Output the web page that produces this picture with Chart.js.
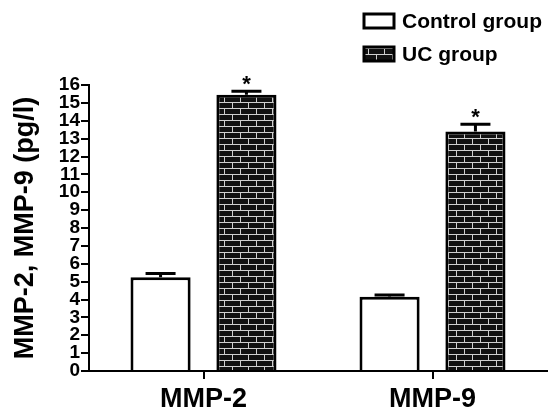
<!DOCTYPE html>
<html>
<head>
<meta charset="utf-8">
<script src="https://cdn.jsdelivr.net/npm/chart.js@4"></script>
<style>
  html, body { margin: 0; padding: 0; background: #fff; }
  #wrap { width: 548px; height: 413px; position: relative; }
</style>
</head>
<body>
<div id="wrap"><canvas id="mmpChart"></canvas></div>
<script>
const categories = ['MMP-2', 'MMP-9'];
const seriesNames = ['Control group', 'UC group'];
const controlValues = [5.25, 4.15];
const controlErrors = [0.2, 0.1];
const ucValues = [15.45, 13.4];
const ucErrors = [0.2, 0.4];
const significant = [false, true];   // asterisk per dataset
const yTicks = [0, 1, 2, 3, 4, 5, 6, 7, 8, 9, 10, 11, 12, 13, 14, 15, 16];

const FONT = "'Liberation Sans', Arial, sans-serif";

// brick fill for the UC bars
function brickPattern() {
    const c = document.createElement('canvas');
    c.width = 16; c.height = 12;
    const g = c.getContext('2d');
    g.fillStyle = '#111';
    g.fillRect(0, 0, 16, 12);
    g.fillStyle = '#cfcfcf';
    g.fillRect(0, 0, 16, 1);
    g.fillRect(0, 6, 16, 1);
    g.fillRect(0, 0, 1, 6);
    g.fillRect(8, 6, 1, 6);
    return g.createPattern(c, 'repeat');
}
const bricks = brickPattern();

const errorBars = {
    id: 'errorBars',
    afterDatasetsDraw(chart) {
        const ctx = chart.ctx;
        const y = chart.scales.y;
        chart.data.datasets.forEach((ds, di) => {
            const meta = chart.getDatasetMeta(di);
            meta.data.forEach((bar, i) => {
                const top = y.getPixelForValue(ds.data[i] + ds.errors[i]);
                const base = y.getPixelForValue(ds.data[i]);
                ctx.save();
                ctx.strokeStyle = '#000';
                ctx.lineWidth = 3;
                ctx.beginPath();
                ctx.moveTo(bar.x, base);
                ctx.lineTo(bar.x, top);
                ctx.moveTo(bar.x - 15, top);
                ctx.lineTo(bar.x + 15, top);
                ctx.stroke();
                if (ds.star) {
                    ctx.fillStyle = '#000';
                    ctx.font = 'bold 22px ' + FONT;
                    ctx.textAlign = 'center';
                    ctx.textBaseline = 'middle';
                    ctx.fillText('*', bar.x, top - 6);
                }
                ctx.restore();
            });
        });
    }
};

const boxLegend = {
    id: 'boxLegend',
    afterDraw(chart) {
        const ctx = chart.ctx;
        const rows = [21, 54];
        ctx.save();
        chart.data.datasets.forEach((ds, i) => {
            const cy = rows[i];
            ctx.fillStyle = ds.backgroundColor;
            ctx.fillRect(364, cy - 7, 30, 14);
            ctx.strokeStyle = '#000';
            ctx.lineWidth = 3;
            ctx.strokeRect(364, cy - 7, 30, 14);
            ctx.fillStyle = '#000';
            ctx.font = 'bold 21px ' + FONT;
            ctx.textAlign = 'left';
            ctx.textBaseline = 'middle';
            ctx.fillText(ds.label, 402, cy + 1);
        });
        ctx.restore();
    }
};

new Chart(document.getElementById('mmpChart'), {
    type: 'bar',
    data: {
        labels: categories,
        datasets: [
            {
                label: seriesNames[0],
                data: controlValues,
                errors: controlErrors,
                star: significant[0],
                backgroundColor: '#fff',
                borderColor: '#000',
                borderWidth: 3,
                borderSkipped: 'bottom',
                barPercentage: 0.7,
                categoryPercentage: 0.75
            },
            {
                label: seriesNames[1],
                data: ucValues,
                errors: ucErrors,
                star: significant[1],
                backgroundColor: bricks,
                borderColor: '#000',
                borderWidth: 3,
                borderSkipped: 'bottom',
                barPercentage: 0.7,
                categoryPercentage: 0.75
            }
        ]
    },
    options: {
        responsive: true,
        maintainAspectRatio: false,
        animation: false,
        layout: { padding: { top: 85, right: 1, left: 0, bottom: 0 } },
        plugins: {
            legend: { display: false },
            tooltip: { enabled: false }
        },
        scales: {
            x: {
                grid: { display: true, drawOnChartArea: false, offset: false, color: '#000', lineWidth: 2, tickLength: 8 },
                border: { display: true, color: '#000', width: 2 },
                ticks: { color: '#000', padding: 4, font: { family: FONT, size: 27, weight: 'bold' } },
                afterFit(scale) { scale.height = 42; }
            },
            y: {
                min: 0,
                max: 16,
                afterBuildTicks(scale) { scale.ticks = yTicks.map(v => ({ value: v })); },
                grid: { display: true, drawOnChartArea: false, color: '#000', lineWidth: 2, tickLength: 8 },
                border: { display: true, color: '#000', width: 2 },
                ticks: { color: '#000', padding: 1, autoSkip: false, font: { family: FONT, size: 19, weight: 'bold' } },
                title: {
                    display: true,
                    text: 'MMP-2, MMP-9 (pg/l)',
                    color: '#000',
                    padding: { top: 9, bottom: 0 },
                    font: { family: FONT, size: 27, weight: 'bold' }
                },
                afterFit(scale) { scale.width = 89; }
            }
        }
    },
    plugins: [errorBars, boxLegend]
});
</script>
</body>
</html>
